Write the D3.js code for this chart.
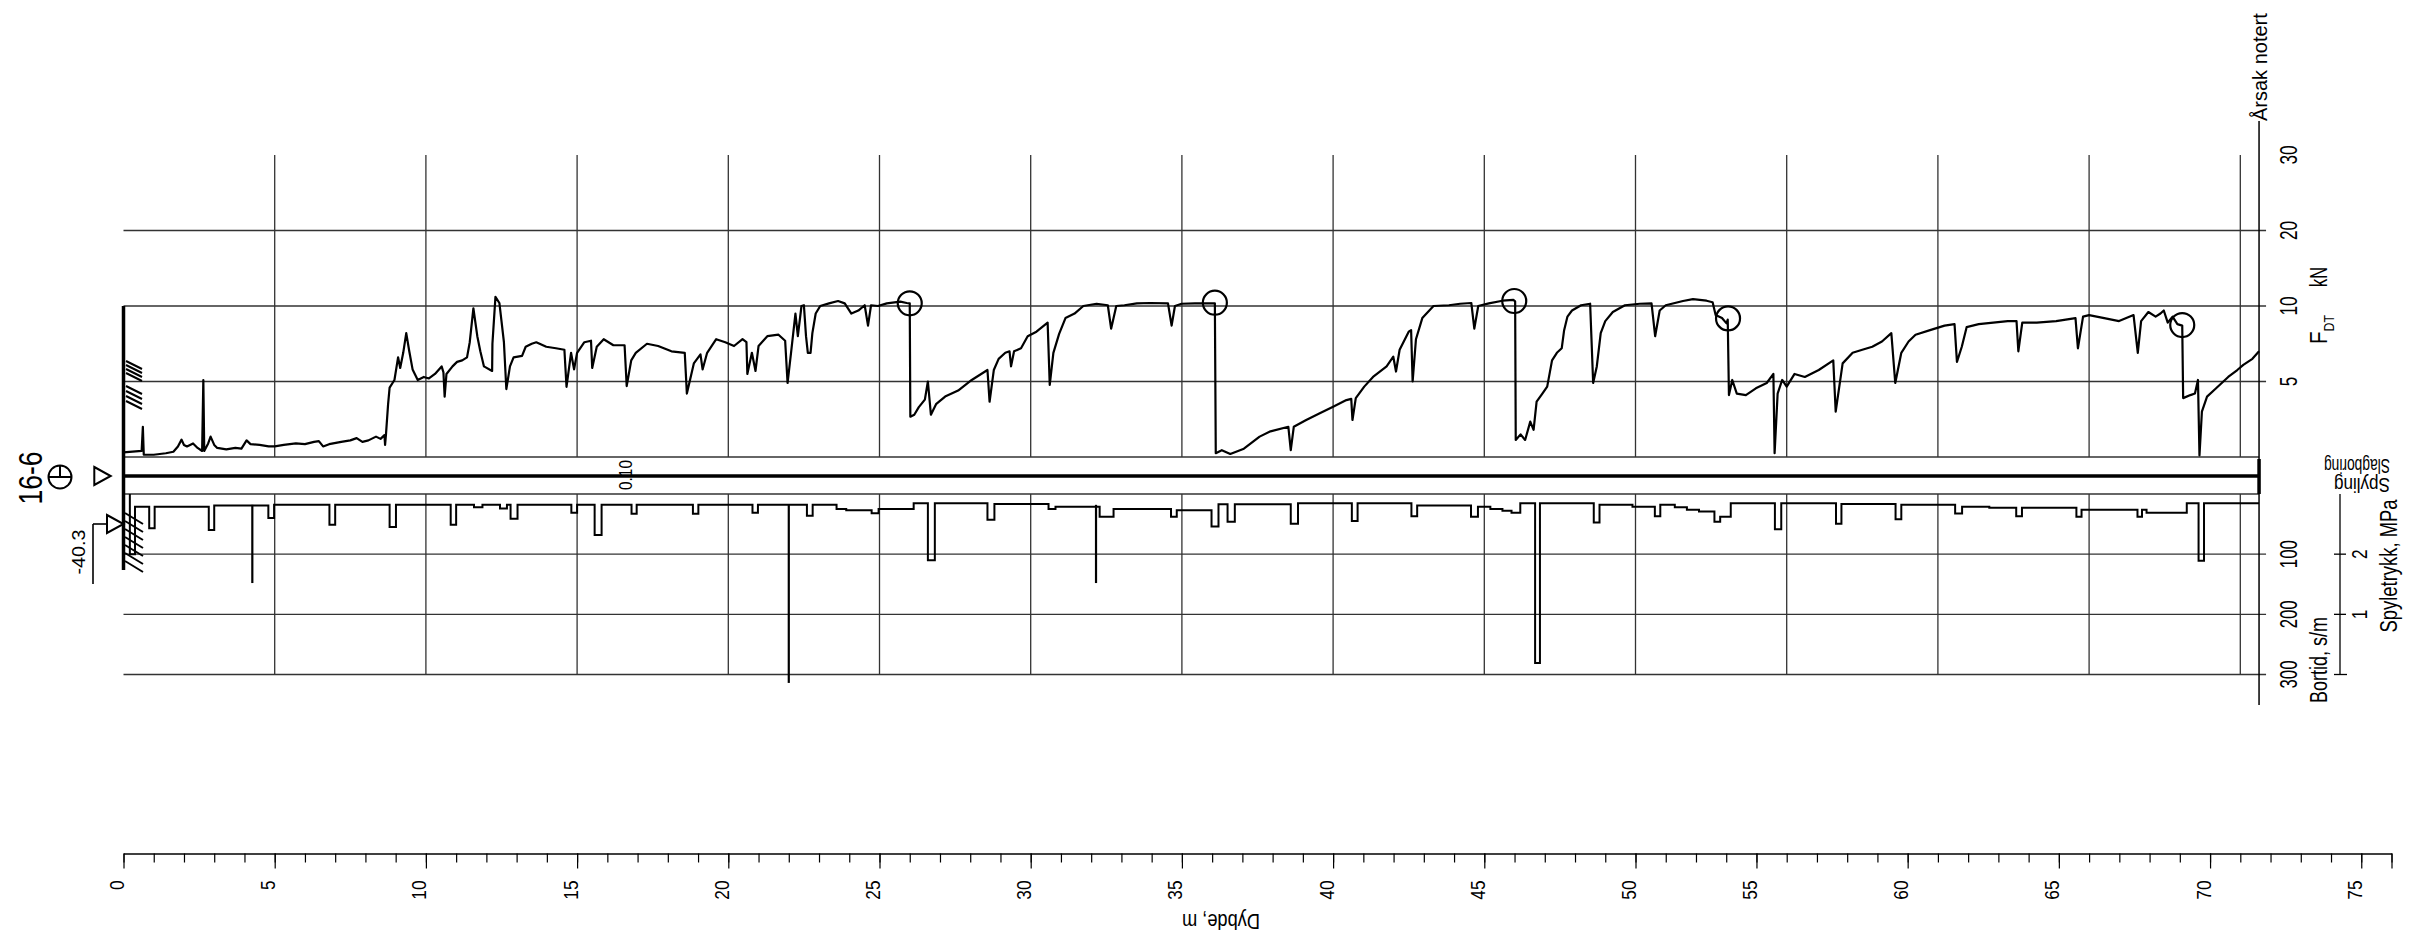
<!DOCTYPE html>
<html>
<head>
<meta charset="utf-8">
<script src="https://cdn.jsdelivr.net/npm/d3@7"></script>
<style>
  html, body { margin: 0; padding: 0; background: #fff; }
  svg { display: block; }
  text { font-family: "Liberation Sans", Arial, sans-serif; fill: #000; }
</style>
</head>
<body>
<svg id="chart" width="2421" height="940"></svg>
<script>
// ---------------- data ----------------
// Total sounding 16-6: push force F_DT (kN) against depth (m)
const fdtReadings = [
  [0, 0.3], [0.3, 0.35], [0.6, 0.4], [0.64, 2.0], [0.67, 0.15], [1.0, 0.15], [1.4, 0.25], [1.65, 0.35],
  [1.8, 0.7], [1.92, 1.15], [2.0, 0.8], [2.1, 0.7], [2.3, 0.9], [2.45, 0.6], [2.6, 0.4], [2.64, 5.1],
  [2.67, 0.4], [2.8, 0.9], [2.88, 1.35], [3.0, 0.8], [3.1, 0.6], [3.4, 0.5], [3.7, 0.6], [3.9, 0.55],
  [4.07, 1.1], [4.2, 0.85], [4.5, 0.8], [4.8, 0.7], [5.0, 0.7], [5.3, 0.8], [5.7, 0.9], [6.0, 0.85],
  [6.3, 1.0], [6.46, 1.05], [6.6, 0.7], [6.8, 0.85], [7.2, 1.0], [7.5, 1.1], [7.71, 1.25], [7.9, 1.0],
  [8.1, 1.1], [8.35, 1.35], [8.5, 1.2], [8.63, 1.45], [8.65, 0.8], [8.68, 1.5], [8.75, 3.5], [8.8, 4.6],
  [8.96, 5.1], [9.08, 6.6], [9.15, 5.9], [9.25, 6.9], [9.35, 8.2], [9.45, 7.0], [9.56, 5.8], [9.73, 5.1],
  [9.93, 5.3], [10.1, 5.2], [10.3, 5.5], [10.52, 6.0], [10.58, 5.6], [10.62, 4.0], [10.68, 5.5], [10.88, 6.0],
  [11.03, 6.3], [11.2, 6.4], [11.36, 6.6], [11.45, 7.6], [11.57, 9.85], [11.7, 8.0], [11.8, 7.0], [11.92, 6.0],
  [12.19, 5.7], [12.2, 7.5], [12.3, 11.2], [12.43, 10.4], [12.5, 9.0], [12.58, 7.6], [12.66, 4.5], [12.78, 6.0],
  [12.9, 6.6], [13.18, 6.7], [13.3, 7.3], [13.5, 7.5], [13.65, 7.6], [13.98, 7.3], [14.3, 7.2], [14.58, 7.1],
  [14.65, 4.65], [14.8, 6.9], [14.9, 5.8], [15.0, 6.9], [15.24, 7.6], [15.46, 7.7], [15.5, 5.9], [15.65, 7.3],
  [15.88, 7.8], [16.2, 7.4], [16.57, 7.4], [16.64, 4.7], [16.79, 6.4], [16.94, 6.9], [17.31, 7.5], [17.68, 7.35],
  [18.12, 7.0], [18.56, 6.9], [18.63, 4.2], [18.86, 6.2], [19.08, 6.8], [19.15, 5.8], [19.3, 6.9], [19.6, 7.8],
  [19.9, 7.6], [20.19, 7.35], [20.47, 7.8], [20.6, 7.6], [20.63, 5.5], [20.78, 6.9], [20.9, 5.7], [21.0, 7.35],
  [21.29, 8.0], [21.66, 8.1], [21.88, 7.7], [21.96, 4.9], [22.08, 7.0], [22.22, 9.5], [22.3, 8.0], [22.42, 10.0],
  [22.5, 10.1], [22.57, 8.0], [22.63, 6.9], [22.72, 6.9], [22.78, 8.2], [22.89, 9.5], [23.04, 10.0], [23.33, 10.35],
  [23.63, 10.66], [23.85, 10.35], [24.07, 9.5], [24.3, 9.7], [24.51, 10.1], [24.62, 8.7], [24.72, 10.1], [24.95, 10.0],
  [25.24, 10.35], [25.69, 10.57], [25.9, 10.4], [26.0, 10.35], [26.02, 2.67], [26.15, 2.8], [26.3, 3.3], [26.5, 3.8],
  [26.6, 5.0], [26.7, 2.8], [26.87, 3.5], [27.17, 4.0], [27.6, 4.4], [28.05, 5.1], [28.57, 5.76], [28.64, 3.66],
  [28.78, 5.76], [28.94, 6.5], [29.16, 6.9], [29.3, 7.0], [29.35, 6.0], [29.45, 7.0], [29.68, 7.2], [29.9, 8.0],
  [30.19, 8.3], [30.56, 8.9], [30.63, 4.77], [30.75, 6.9], [30.94, 8.15], [31.15, 9.2], [31.45, 9.5], [31.74, 10.0],
  [32.18, 10.3], [32.55, 10.1], [32.66, 8.5], [32.83, 10.0], [33.1, 10.1], [33.51, 10.35], [33.95, 10.4], [34.54, 10.35],
  [34.66, 8.7], [34.77, 10.0], [34.99, 10.3], [35.43, 10.35], [35.86, 10.35], [36.09, 10.35], [36.12, 0.25], [36.32, 0.45],
  [36.6, 0.2], [37.05, 0.55], [37.57, 1.35], [37.93, 1.7], [38.52, 2.0], [38.6, 0.45], [38.7, 2.0], [39.11, 2.45],
  [39.56, 2.9], [40.0, 3.33], [40.44, 3.77], [40.6, 3.85], [40.64, 2.45], [40.75, 3.9], [41.03, 4.66], [41.32, 5.3],
  [41.77, 6.0], [41.99, 6.64], [42.08, 5.66], [42.2, 7.1], [42.5, 8.3], [42.58, 8.4], [42.63, 5.0], [42.74, 7.8],
  [42.95, 9.2], [43.32, 10.0], [43.83, 10.1], [44.2, 10.3], [44.57, 10.4], [44.67, 8.5], [44.8, 10.0], [45.15, 10.35],
  [45.6, 10.7], [45.96, 10.8], [46.02, 10.6], [46.04, 1.13], [46.2, 1.5], [46.35, 1.13], [46.52, 2.34], [46.63, 1.8],
  [46.73, 3.66], [46.92, 4.2], [47.08, 4.66], [47.24, 6.4], [47.4, 6.9], [47.56, 7.2], [47.64, 8.4], [47.75, 9.3],
  [47.9, 9.7], [48.2, 10.1], [48.5, 10.3], [48.6, 4.9], [48.72, 6.0], [48.85, 8.2], [49.0, 9.0], [49.25, 9.6],
  [49.65, 10.1], [50.14, 10.3], [50.53, 10.35], [50.65, 8.0], [50.8, 9.7], [51.0, 10.1], [51.57, 10.66], [51.9, 10.9],
  [52.35, 10.7], [52.55, 10.5], [52.65, 9.4], [52.86, 9.2], [53.01, 8.85], [53.05, 9.1], [53.09, 4.1], [53.2, 5.1],
  [53.35, 4.2], [53.65, 4.1], [53.98, 4.55], [54.34, 4.9], [54.56, 5.5], [54.6, 0.25], [54.7, 4.2], [54.85, 5.1],
  [55.0, 4.66], [55.26, 5.5], [55.6, 5.3], [56.06, 5.76], [56.54, 6.4], [56.62, 3.0], [56.85, 6.2], [57.18, 6.9],
  [57.5, 7.1], [57.83, 7.3], [58.15, 7.65], [58.46, 8.2], [58.59, 4.9], [58.79, 6.9], [59.03, 7.65], [59.26, 8.1],
  [59.74, 8.4], [60.22, 8.7], [60.55, 8.8], [60.63, 6.3], [60.79, 7.3], [60.95, 8.6], [61.35, 8.8], [61.83, 8.9],
  [62.31, 9.0], [62.6, 9.0], [62.66, 7.0], [62.79, 8.9], [63.27, 8.9], [63.91, 9.0], [64.55, 9.2], [64.63, 7.2],
  [64.8, 9.3], [65.0, 9.4], [65.5, 9.2], [65.99, 9.0], [66.47, 9.4], [66.61, 6.9], [66.72, 9.0], [66.96, 9.6],
  [67.2, 9.3], [67.36, 9.5], [67.47, 9.7], [67.6, 8.9], [67.76, 9.3], [67.92, 8.8], [68.08, 8.7], [68.11, 3.9],
  [68.35, 4.1], [68.5, 4.2], [68.6, 5.1], [68.65, 0.1], [68.73, 3.0], [68.9, 4.0], [69.2, 4.55], [69.6, 5.3],
  [69.9, 5.76], [70.1, 6.1], [70.4, 6.5], [70.62, 7.0]
];

// Noted events (circled on the force curve)
const noteDepth = [26.0, 36.09, 45.99, 53.06, 68.08];
const noteForce = [10.36, 10.44, 10.66, 9.18, 8.74];

// Penetration time (s/m), stepwise per interval
const bortidReadings = [
  [0.21, 0], [0.21, 100], [0.38, 21], [0.85, 57], [1.03, 21], [2.82, 60], [3.0, 19], [4.79, 40],
  [4.98, 18], [6.81, 51], [7.0, 18], [8.8, 55], [9.01, 18], [10.82, 51], [11.0, 18], [11.59, 22],
  [11.87, 18], [12.45, 24], [12.68, 18], [12.8, 41], [13.03, 18], [14.81, 31], [15.0, 18], [15.58, 68],
  [15.81, 18], [16.8, 33], [16.97, 18], [18.83, 33], [19.01, 18], [20.8, 31], [20.98, 18], [22.6, 36],
  [22.79, 18], [23.58, 25], [23.9, 27], [24.74, 32], [24.97, 25], [26.13, 15.5], [26.6, 110], [26.83, 15.5],
  [28.57, 43], [28.8, 16.5], [30.59, 25], [30.82, 21], [32.28, 38], [32.74, 25], [34.64, 38], [34.83, 27],
  [35.98, 54], [36.21, 17], [36.51, 46], [36.75, 17], [38.6, 49.5], [38.84, 15.5], [40.62, 45], [40.81, 15.5],
  [42.59, 37], [42.78, 19], [44.56, 38], [44.79, 21], [45.2, 25], [45.6, 28], [45.9, 31], [46.19, 15.5],
  [46.68, 281], [46.84, 15.5], [48.62, 47.5], [48.81, 18], [49.9, 21], [50.64, 37], [50.82, 18], [51.3, 22],
  [51.7, 26], [52.1, 29], [52.61, 46], [52.8, 38], [53.15, 15.5], [54.61, 58.6], [54.82, 15.5], [56.63, 49.5],
  [56.81, 16.5], [58.6, 42], [58.79, 18], [60.57, 32.5], [60.8, 21], [61.7, 23], [62.59, 37], [62.78, 23],
  [64.58, 38], [64.75, 26], [66.6, 38], [66.75, 26], [66.9, 31], [68.23, 15.5], [68.62, 111], [68.8, 15.5],
  [70.62, 15.5]
];

// Single peak readings of penetration time
const bortidPeakDepth = [4.26, 22.0, 32.16];
const bortidPeakValue = [148, 314, 148];
const bortidPeakBase = 18;

// Axis ticks and labels
const forceTicks = [5, 10, 20, 30];
const forceGrid = [5, 10, 20];
const bortidTicks = [100, 200, 300];
const pressureTicks = [1, 2];
const depthLabelAt = [0, 5, 10, 15, 20, 25, 30, 35, 40, 45, 50, 54, 59, 64, 69, 74];
const depthLabels = ["0", "5", "10", "15", "20", "25", "30", "35", "40", "45", "50", "55", "60", "65", "70", "75"];
const gridDepths = d3.range(5, 71, 5);
const endDepth = 70.62;

// ---------------- scales ----------------
const svg = d3.select("#chart");
const x = d3.scaleLinear().domain([0, 75]).range([123.5, 123.5 + 75 * 30.24]);
const yF = d3.scaleLinear().domain([0, 10, 30]).range([457, 306, 155]);
const yB = d3.scaleLinear().domain([0, 300]).range([494, 674.5]);
const yP = d3.scaleLinear().domain([0, 3]).range([674.5, 494]);

const x0 = x(0), xEnd = x(endDepth);
const bandMid = 476;
const axisY = 853.5;
const gridColor = "#333";
const digitW = 9.6;   // advance of one digit in the drawing font

function line(g, x1, y1, x2, y2, w, c) {
  return g.append("line").attr("x1", x1).attr("y1", y1).attr("x2", x2).attr("y2", y2)
    .attr("stroke", c || "#000").attr("stroke-width", w || 1.3);
}
function fit(t, len) {
  if (len) t.attr("textLength", len).attr("lengthAdjust", "spacingAndGlyphs");
  return t;
}
// text reading bottom-to-top
function vtext(px, py, str, size, anchor, len) {
  const t = svg.append("text").attr("transform", `translate(${px},${py}) rotate(-90)`)
    .attr("text-anchor", anchor || "middle").style("font-size", size + "px").text(str);
  return fit(t, len);
}
// upside-down text
function flipText(px, py, str, size, anchor, len) {
  const t = svg.append("text").attr("transform", `translate(${px},${py}) rotate(180)`)
    .attr("text-anchor", anchor || "middle").style("font-size", size + "px").text(str);
  return fit(t, len);
}

// ---------------- grid ----------------
const grid = svg.append("g");
gridDepths.forEach(d => {
  line(grid, x(d), yF(30), x(d), yF(0), 1.3, gridColor);
  line(grid, x(d), yB(0), x(d), yB(300), 1.3, gridColor);
});
forceGrid.forEach(v => line(grid, x0, yF(v), xEnd + 7, yF(v), 1.3, gridColor));
line(grid, x0, yF(0), xEnd, yF(0), 1.3, gridColor);
line(grid, x0, yB(0), xEnd, yB(0), 1.3, gridColor);
bortidTicks.forEach(v => line(grid, x0, yB(v), xEnd + 7, yB(v), 1.3, gridColor));

// flushing band
line(svg, x0, bandMid, xEnd, bandMid, 3.5);
line(svg, xEnd, yF(0) + 2, xEnd, yB(0), 3.5);

// right axis line
line(svg, xEnd, 121, xEnd, 705, 1.5);
// left border
line(svg, x0, yF(10), x0, 570, 3.5);

// ---------------- curves ----------------
const fLine = d3.line().x(d => x(d[0])).y(d => yF(d[1]));
svg.append("path").datum(fdtReadings).attr("d", fLine)
  .attr("fill", "none").attr("stroke", "#000").attr("stroke-width", 2.2).attr("stroke-linejoin", "round");

svg.selectAll("circle.note").data(d3.zip(noteDepth, noteForce)).join("circle")
  .attr("class", "note").attr("cx", d => x(d[0])).attr("cy", d => yF(d[1])).attr("r", 12)
  .attr("fill", "none").attr("stroke", "#000").attr("stroke-width", 2.2);

const bLine = d3.line().x(d => x(d[0])).y(d => yB(d[1])).curve(d3.curveStepAfter);
svg.append("path").datum(bortidReadings).attr("d", bLine)
  .attr("fill", "none").attr("stroke", "#000").attr("stroke-width", 2);

d3.zip(bortidPeakDepth, bortidPeakValue).forEach(([d, v]) => {
  line(svg, x(d), yB(bortidPeakBase), x(d), yB(v), 2.2);
});

// ---------------- depth axis ----------------
const gMinor = svg.append("g").attr("transform", `translate(0,${axisY})`)
  .call(d3.axisBottom(x).tickValues(d3.range(0, 76)).tickSize(9).tickSizeOuter(0).tickFormat(""));
gMinor.select(".domain").attr("stroke", "#000").attr("stroke-width", 1.6);
gMinor.selectAll(".tick line").attr("stroke", "#000").attr("stroke-width", 1.2);

const gMajor = svg.append("g").attr("transform", `translate(0,${axisY})`)
  .call(d3.axisBottom(x).tickValues(depthLabelAt.concat([75])).tickSize(15).tickSizeOuter(0)
    .tickFormat((d, i) => depthLabels[i] || ""));
gMajor.select(".domain").remove();
gMajor.selectAll(".tick line").attr("stroke", "#000").attr("stroke-width", 1.2);
gMajor.selectAll(".tick text")
  .attr("transform", "rotate(-90)").attr("x", -27).attr("y", 0).attr("dy", 0)
  .attr("text-anchor", "end").style("font-size", "21px")
  .each(function () {
    const s = d3.select(this).text();
    if (s) fit(d3.select(this), s.length * digitW);
  });

flipText(1221, 914, "Dybde, m", 22, "middle", 78);

// ---------------- right-hand labels ----------------
forceTicks.forEach(v => vtext(2297, yF(v), String(v), 23, "middle", String(v).length * digitW));
vtext(2327, 277, "kN", 23, "middle", 20);
const fdt = svg.append("text").attr("transform", "translate(2327,344) rotate(-90)").attr("text-anchor", "start");
fdt.append("tspan").style("font-size", "23px").text("F");
fdt.append("tspan").attr("dy", 7).style("font-size", "14px").text("DT");
fit(fdt, 29);

bortidTicks.forEach(v => vtext(2297, yB(v), String(v), 23, "middle", 28));
vtext(2327, 660, "Bortid, s/m", 23, "middle", 86);

// flushing pressure scale
line(svg, 2340, yP(3), 2340, yP(0), 1.3);
pressureTicks.forEach(v => {
  line(svg, 2334, yP(v), 2346, yP(v), 1.3);
  vtext(2367, yP(v), String(v), 22, "middle", digitW);
});
line(svg, 2334, yP(0), 2347, yP(0), 1.3);
vtext(2397, 566, "Spyletrykk, MPa", 23, "middle", 133);

vtext(2267, 121, "Årsak notert", 20, "start");

flipText(2390, 459, "Slagboring", 20, "start", 66);
flipText(2390, 478, "Spyling", 20, "start", 56);

vtext(632, 475, "0.10", 18, "middle", 30);

// ---------------- borehole header ----------------
vtext(42, 478, "16-6", 33, "middle", 53);
const sym = svg.append("g").attr("fill", "none").attr("stroke", "#000").attr("stroke-width", 2);
sym.append("circle").attr("cx", 60).attr("cy", 477).attr("r", 11.5);
sym.append("line").attr("x1", 48.5).attr("y1", 477).attr("x2", 71.5).attr("y2", 477);
sym.append("line").attr("x1", 60).attr("y1", 465.5).attr("x2", 60).attr("y2", 477);

// water level / terrain markers
svg.append("path").attr("d", "M94.3,467 L110.7,476 L94.3,485 Z").attr("fill", "none").attr("stroke", "#000").attr("stroke-width", 2);
svg.append("path").attr("d", "M107,515 L123.5,524 L107,533 Z").attr("fill", "none").attr("stroke", "#000").attr("stroke-width", 2);
line(svg, 93, 524, 107, 524, 1.6);
line(svg, 93, 524, 93, 584, 1.6);
vtext(85, 552, "-40.3", 19, "middle", 45);

// hatching along the borehole wall
const hatch = svg.append("g").attr("stroke", "#000").attr("stroke-width", 2);
[361, 365, 369, 373, 386, 391, 396, 401].forEach(y0 => {
  hatch.append("line").attr("x1", 126).attr("y1", y0).attr("x2", 142).attr("y2", y0 + 8);
});
[513, 521, 529, 537, 545, 553, 561].forEach(y0 => {
  hatch.append("line").attr("x1", 125).attr("y1", y0).attr("x2", 143).attr("y2", y0 + 11);
});
</script>
</body>
</html>
